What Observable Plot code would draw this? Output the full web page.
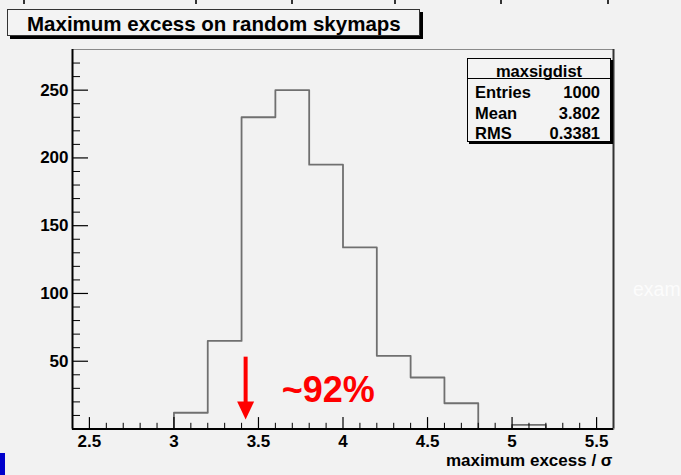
<!DOCTYPE html>
<html>
<head>
<meta charset="utf-8">
<script src="https://cdn.jsdelivr.net/npm/d3@7"></script>
<script src="https://cdn.jsdelivr.net/npm/@observablehq/plot@0.6"></script>
<style>
  html, body { margin: 0; padding: 0; background: #f2f2f2; }
  #chart {
    position: relative; width: 681px; height: 475px; overflow: hidden;
    background: #f2f2f2; color: #000;
    font-family: "Liberation Sans", Arial, Helvetica, sans-serif; font-weight: bold;
  }
  #chart svg { position: absolute; left: 0; top: 0; }
  .title {
    position: absolute; left: 7px; top: 9px; width: 392px; height: 25px;
    border: 1px solid #333; box-shadow: 3px 3px 0 #000; background: #f3f3f3;
    padding-left: 19px;
    font-size: 20.5px; line-height: 27px; white-space: nowrap;
  }
  .stats {
    position: absolute; left: 467px; top: 58px; width: 142px; height: 82px;
    border: 1.5px solid #000; box-shadow: 2px 2px 0 #000; background: #f3f3f3;
    font-size: 16.5px; line-height: 16px;
  }
  .stats .head { position: absolute; left: 0; right: 0; top: 4px; text-align: center; }
  .stats .sep { position: absolute; left: 0; right: 0; top: 19px; border-top: 1.5px solid #000; }
  .stats .row { position: absolute; left: 7px; right: 10px; }
  .stats .row span:last-child { position: absolute; right: 0; }
  .ghost {
    position: absolute; left: 633px; top: 278px; font-size: 19.5px; font-weight: normal;
    color: #fcfcfc; white-space: nowrap;
  }
  .edge { position: absolute; left: 0; top: 453px; width: 5px; height: 22px; background: #0000cc; }
  .stub { position: absolute; top: 0; width: 1.5px; height: 4px; background: #333; }
</style>
</head>
<body>
<div id="chart"></div>
<script>
// Histogram "maxsigdist": 16 bins of width 0.2 on [2.4, 5.6]
const binEdges = [2.4, 2.6, 2.8, 3.0, 3.2, 3.4, 3.6, 3.8, 4.0, 4.2, 4.4, 4.6, 4.8, 5.0, 5.2, 5.4, 5.6];
const binCounts = [0, 0, 0, 12, 65, 230, 250, 195, 134, 54, 38, 19, 0, 3, 0, 0];

const titleText = "Maximum excess on random skymaps";
const xAxisTitle = "maximum excess / \u03c3";
const statsName = "maxsigdist";
const statsLabels = ["Entries", "Mean", "RMS"];
const statsValues = ["1000", "3.802", "0.3381"];

const xMajorTicks = [2.5, 3, 3.5, 4, 4.5, 5, 5.5];
const xTickLabels = ["2.5", "3", "3.5", "4", "4.5", "5", "5.5"];
const yMajorTicks = [50, 100, 150, 200, 250];
const yTickLabels = ["50", "100", "150", "200", "250"];

// Annotation: arrow marking the observed excess, and the fraction label
const arrowMark = [{x: 3.424, top: 53, tip: 7}];
const fractionLabel = [{x: 3.637, y: 19.8, text: "~92%"}];
const ghostText = "exam";

const xDomain = [binEdges[0], binEdges[binEdges.length - 1]];
const yDomain = [0, 280];

// Minor ticks every 0.1 on x and every 10 on y (ROOT style, drawn inside the frame)
const xMinorTicks = d3.range(25, 56).map(v => v / 10).filter(v => !xMajorTicks.includes(v));
const yMinorTicks = d3.range(10, 280, 10).filter(v => !yMajorTicks.includes(v));

// Step outline: each bin's count starts at its lower edge; last point closes the final bin
const steps = binCounts.map((c, i) => ({x: binEdges[i], y: c}));
steps.push({x: binEdges[binEdges.length - 1], y: binCounts[binCounts.length - 1]});

const xTickData = xMajorTicks.map((v, i) => ({v, label: xTickLabels[i]}));
const yTickData = yMajorTicks.map((v, i) => ({v, label: yTickLabels[i]}));

// Filled, downward-pointing arrow head with its tip at the symbol origin
const arrowHead = {
  draw(ctx) {
    ctx.moveTo(0, 0);
    ctx.lineTo(-8.5, -18);
    ctx.lineTo(8.5, -18);
    ctx.closePath();
  }
};

const font = '"Liberation Sans", Arial, Helvetica, sans-serif';

const plot = Plot.plot({
  width: 681,
  height: 475,
  marginLeft: 72,
  marginRight: 68,
  marginTop: 49,
  marginBottom: 46.5,
  x: {domain: xDomain, axis: null},
  y: {domain: yDomain, axis: null},
  style: `background: transparent; font-family: ${font}; font-weight: bold; overflow: visible;`,
  marks: [
    // frame: top (light) and right (dark) edges
    Plot.ruleY([yDomain[1]], {stroke: "#8a8a8a", strokeWidth: 1}),
    Plot.ruleX([xDomain[1]], {stroke: "#333", strokeWidth: 2}),
    // histogram outline
    Plot.line(steps, {x: "x", y: "y", curve: "step-after", stroke: "#707070", strokeWidth: 1.8}),
    // inward ticks
    Plot.ruleX(xMinorTicks, {x: d => d, y1: 0, y2: 0, insetTop: -5.7, stroke: "#000", strokeWidth: 1}),
    Plot.ruleX(xMajorTicks, {x: d => d, y1: 0, y2: 0, insetTop: -11.4, stroke: "#000", strokeWidth: 1.2}),
    Plot.ruleY(yMinorTicks, {y: d => d, x1: xDomain[0], x2: xDomain[0], insetRight: -8, stroke: "#000", strokeWidth: 1}),
    Plot.ruleY(yMajorTicks, {y: d => d, x1: xDomain[0], x2: xDomain[0], insetRight: -16, stroke: "#000", strokeWidth: 1.2}),
    // axis lines
    Plot.ruleX([xDomain[0]], {stroke: "#000", strokeWidth: 2}),
    Plot.ruleY([0], {stroke: "#000", strokeWidth: 2}),
    // tick labels
    Plot.text(xTickData, {x: "v", text: "label", frameAnchor: "bottom", lineAnchor: "top", dy: 6, fontSize: 17, fontWeight: "bold", fill: "#000"}),
    Plot.text(yTickData, {y: "v", text: "label", frameAnchor: "left", textAnchor: "end", dx: -4, fontSize: 17, fontWeight: "bold", fill: "#000"}),
    // x axis title
    Plot.text([xAxisTitle], {text: d => d, frameAnchor: "bottom-right", textAnchor: "end", lineAnchor: "bottom", dx: -1, dy: 37, fontSize: 17, fontWeight: "bold", fill: "#000"}),
    // arrow annotation
    Plot.ruleX(arrowMark, {x: "x", y1: "top", y2: "tip", insetBottom: 10, stroke: "#ff0000", strokeWidth: 4}),
    Plot.dot(arrowMark, {x: "x", y: "tip", symbol: arrowHead, fill: "#ff0000", stroke: "none"}),
    Plot.text(fractionLabel, {x: "x", y: "y", text: "text", textAnchor: "start", lineAnchor: "bottom", fontSize: 36, fontWeight: "bold", fill: "#ff0000"})
  ]
});

const chart = document.getElementById("chart");
chart.appendChild(plot);

// Histogram title box
const title = document.createElement("div");
title.className = "title";
title.textContent = titleText;
chart.appendChild(title);

// Statistics box
const stats = document.createElement("div");
stats.className = "stats";
const head = document.createElement("div");
head.className = "head";
head.textContent = statsName;
stats.appendChild(head);
const sep = document.createElement("div");
sep.className = "sep";
stats.appendChild(sep);
statsLabels.forEach((lab, i) => {
  const row = document.createElement("div");
  row.className = "row";
  row.style.top = (25 + i * 20.5) + "px";
  const a = document.createElement("span");
  a.textContent = lab;
  const b = document.createElement("span");
  b.textContent = statsValues[i];
  row.appendChild(a);
  row.appendChild(b);
  stats.appendChild(row);
});
chart.appendChild(stats);

// Slide decorations: faded word at the right edge, blue corner strip, and the
// ends of the axis ticks of the slide element above
const ghost = document.createElement("div");
ghost.className = "ghost";
ghost.textContent = ghostText;
chart.appendChild(ghost);

const edge = document.createElement("div");
edge.className = "edge";
chart.appendChild(edge);

[23, 195, 291, 394, 500, 607].forEach(left => {
  const s = document.createElement("div");
  s.className = "stub";
  s.style.left = left + "px";
  chart.appendChild(s);
});
</script>
</body>
</html>
